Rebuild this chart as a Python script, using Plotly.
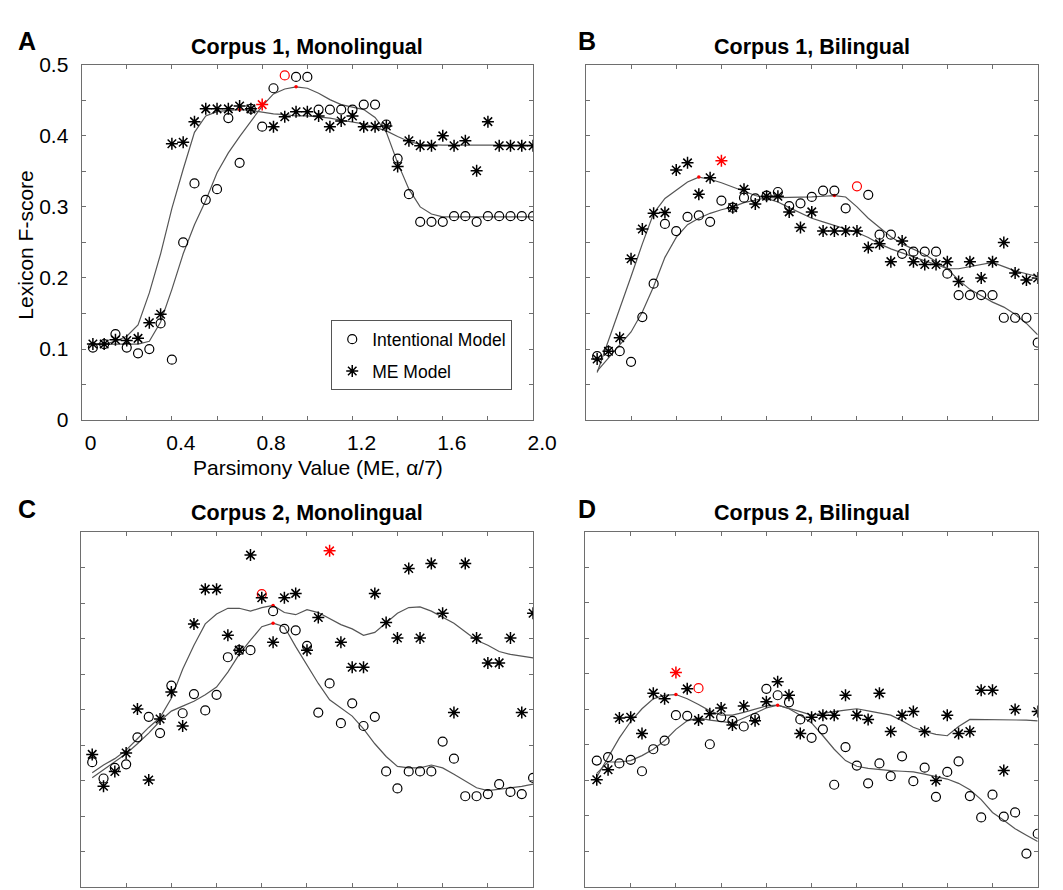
import numpy as np
import plotly.graph_objects as go

# ---------------- data ----------------
x_vals = [round(0.05 * k, 2) for k in range(1, 41)]

# Panel A: Corpus 1, Monolingual
a_int = [0.102, 0.107, 0.121, 0.102, 0.094, 0.100, 0.136, 0.085, 0.250, 0.333,
         0.310, 0.325, 0.425, 0.362, 0.438, 0.413, 0.467, 0.485, 0.483, 0.483,
         0.437, 0.437, 0.437, 0.437, 0.444, 0.444, 0.416, 0.368, 0.318, 0.279,
         0.279, 0.279, 0.287, 0.287, 0.279, 0.287, 0.287, 0.287, 0.287, 0.287]
a_me = [0.107, 0.107, 0.113, 0.112, 0.115, 0.137, 0.149, 0.389, 0.391, 0.420,
        0.438, 0.438, 0.438, 0.442, 0.438, 0.444, 0.413, 0.427, 0.434, 0.434,
        0.428, 0.413, 0.421, 0.428, 0.413, 0.413, 0.414, 0.357, 0.393, 0.386,
        0.386, 0.400, 0.386, 0.393, 0.351, 0.420, 0.386, 0.386, 0.386, 0.386]
a_int_fit = [0.106, 0.107, 0.107, 0.107, 0.107, 0.111, 0.138, 0.184, 0.234, 0.275,
             0.309, 0.348, 0.376, 0.399, 0.421, 0.442, 0.459, 0.466, 0.469, 0.467,
             0.460, 0.451, 0.444, 0.441, 0.437, 0.426, 0.405, 0.362, 0.325, 0.300,
             0.290, 0.286, 0.286, 0.286, 0.286, 0.286, 0.286, 0.286, 0.286, 0.286]
a_me_fit = [0.106, 0.107, 0.111, 0.118, 0.134, 0.179, 0.234, 0.298, 0.353, 0.405,
            0.428, 0.434, 0.436, 0.437, 0.436, 0.433, 0.431, 0.430, 0.428, 0.428,
            0.427, 0.425, 0.422, 0.420, 0.417, 0.412, 0.407, 0.399, 0.392, 0.388,
            0.387, 0.387, 0.387, 0.387, 0.387, 0.387, 0.387, 0.387, 0.387, 0.387]

# Panel B: Corpus 1, Bilingual
b_int = [0.090, 0.097, 0.097, 0.082, 0.145, 0.192, 0.276, 0.266, 0.286, 0.288,
         0.279, 0.309, 0.299, 0.313, 0.312, 0.316, 0.321, 0.301, 0.305, 0.314,
         0.323, 0.323, 0.298, 0.329, 0.317, 0.261, 0.261, 0.234, 0.237, 0.237,
         0.237, 0.206, 0.176, 0.176, 0.176, 0.176, 0.144, 0.144, 0.144, 0.109]
b_me = [0.086, 0.097, 0.116, 0.227, 0.269, 0.291, 0.292, 0.352, 0.362, 0.318,
        0.341, 0.365, 0.299, 0.325, 0.304, 0.315, 0.315, 0.293, 0.271, 0.293,
        0.266, 0.266, 0.266, 0.266, 0.243, 0.248, 0.223, 0.252, 0.223, 0.219,
        0.219, 0.223, 0.195, 0.223, 0.200, 0.223, 0.250, 0.207, 0.197, 0.200]
b_int_fit = [0.069, 0.088, 0.106, 0.124, 0.152, 0.188, 0.229, 0.257, 0.275, 0.284,
             0.291, 0.296, 0.300, 0.306, 0.309, 0.313, 0.313, 0.313, 0.313, 0.314,
             0.315, 0.316, 0.314, 0.300, 0.284, 0.271, 0.258, 0.248, 0.241, 0.233,
             0.223, 0.213, 0.197, 0.184, 0.175, 0.166, 0.159, 0.149, 0.136, 0.120]
b_me_fit = [0.067, 0.111, 0.156, 0.202, 0.248, 0.291, 0.312, 0.323, 0.335, 0.342,
            0.339, 0.334, 0.328, 0.322, 0.316, 0.312, 0.307, 0.299, 0.291, 0.284,
            0.279, 0.274, 0.268, 0.264, 0.257, 0.248, 0.241, 0.235, 0.229, 0.224,
            0.219, 0.213, 0.213, 0.216, 0.219, 0.222, 0.216, 0.210, 0.206, 0.202]

# Panel C: Corpus 2, Monolingual
c_int = [0.176, 0.153, 0.168, 0.173, 0.211, 0.240, 0.217, 0.284, 0.245, 0.272,
         0.249, 0.271, 0.324, 0.334, 0.334, 0.413, 0.389, 0.364, 0.362, 0.340,
         0.246, 0.287, 0.231, 0.259, 0.227, 0.240, 0.163, 0.139, 0.163, 0.163,
         0.163, 0.205, 0.181, 0.128, 0.128, 0.131, 0.145, 0.134, 0.131, 0.154]
c_me = [0.187, 0.142, 0.163, 0.189, 0.251, 0.151, 0.237, 0.275, 0.227, 0.371,
        0.420, 0.420, 0.355, 0.334, 0.468, 0.408, 0.345, 0.408, 0.414, 0.334,
        0.380, 0.474, 0.345, 0.310, 0.310, 0.414, 0.373, 0.351, 0.449, 0.351,
        0.456, 0.386, 0.246, 0.456, 0.351, 0.316, 0.316, 0.351, 0.246, 0.386]
c_int_fit = [0.154, 0.165, 0.176, 0.188, 0.202, 0.217, 0.234, 0.248, 0.255, 0.262,
             0.271, 0.282, 0.303, 0.328, 0.348, 0.367, 0.372, 0.367, 0.339, 0.312,
             0.287, 0.264, 0.252, 0.241, 0.223, 0.202, 0.184, 0.170, 0.168, 0.168,
             0.172, 0.168, 0.159, 0.150, 0.140, 0.136, 0.138, 0.139, 0.142, 0.145]
c_me_fit = [0.161, 0.172, 0.181, 0.193, 0.209, 0.225, 0.239, 0.266, 0.307, 0.341,
            0.371, 0.385, 0.393, 0.393, 0.389, 0.394, 0.397, 0.387, 0.384, 0.391,
            0.387, 0.378, 0.370, 0.364, 0.355, 0.359, 0.373, 0.386, 0.394, 0.395,
            0.389, 0.380, 0.372, 0.360, 0.348, 0.341, 0.332, 0.328, 0.325, 0.323]

# Panel D: Corpus 2, Bilingual
d_int = [0.178, 0.183, 0.174, 0.179, 0.163, 0.194, 0.206, 0.242, 0.241, 0.280,
         0.201, 0.239, 0.234, 0.226, 0.238, 0.279, 0.270, 0.260, 0.236, 0.210,
         0.222, 0.144, 0.197, 0.171, 0.146, 0.174, 0.156, 0.184, 0.149, 0.168,
         0.127, 0.162, 0.177, 0.128, 0.098, 0.130, 0.099, 0.105, 0.047, 0.075]
d_me = [0.151, 0.165, 0.238, 0.239, 0.216, 0.273, 0.265, 0.302, 0.279, 0.235,
        0.244, 0.252, 0.228, 0.255, 0.234, 0.261, 0.289, 0.270, 0.216, 0.239,
        0.242, 0.242, 0.270, 0.242, 0.236, 0.273, 0.219, 0.242, 0.247, 0.219,
        0.150, 0.242, 0.216, 0.219, 0.277, 0.277, 0.164, 0.250, None, 0.247]
d_int_fit = [0.160, 0.176, 0.176, 0.178, 0.185, 0.194, 0.206, 0.222, 0.234, 0.238,
             0.235, 0.233, 0.231, 0.238, 0.245, 0.252, 0.256, 0.251, 0.242, 0.231,
             0.213, 0.194, 0.178, 0.170, 0.167, 0.165, 0.164, 0.163, 0.162, 0.159,
             0.155, 0.152, 0.146, 0.137, 0.123, 0.105, 0.094, 0.082, 0.073, 0.064]
d_me_fit = [0.155, 0.183, 0.210, 0.233, 0.251, 0.265, 0.270, 0.271, 0.265, 0.257,
            0.248, 0.242, 0.242, 0.246, 0.251, 0.255, 0.256, 0.252, 0.247, 0.242,
            0.245, 0.247, 0.249, 0.251, 0.248, 0.245, 0.242, 0.234, 0.225, 0.219,
            0.215, 0.213, 0.226, 0.236, 0.236, 0.236, 0.235, 0.235, 0.235, 0.234]

panel_titles = ["Corpus 1, Monolingual", "Corpus 1, Bilingual",
                "Corpus 2, Monolingual", "Corpus 2, Bilingual"]
panel_letters = ["A", "B", "C", "D"]
x_tick_vals = [round(0.2 * k, 1) for k in range(11)]
x_tick_text = ["0", "", "0.4", "", "0.8", "", "1.2", "", "1.6", "", "2.0"]
y_tick_vals = [round(0.05 * k, 2) for k in range(11)]
y_tick_text = ["0", "", "0.1", "", "0.2", "", "0.3", "", "0.4", "", "0.5"]
series_names = ["Intentional Model", "ME Model"]
x_title = "Parsimony Value (ME, α/7)"
y_title = "Lexicon F-score"

panels = [
    (a_int, a_me, a_int_fit, a_me_fit),
    (b_int, b_me, b_int_fit, b_me_fit),
    (c_int, c_me, c_int_fit, c_me_fit),
    (d_int, d_me, d_int_fit, d_me_fit),
]

# ---------------- layout geometry (pixels) ----------------
W, H = 1063, 890
px_x = [(75.3, 537.2), (591.2, 1053.5), (74.6, 537.2), (590.8, 1053.5)]
px_y = [(46.0, 410.7), (46.0, 410.7), (526.0, 890.0), (525.5, 890.0)]

FONT = "Arial, 'Liberation Sans', Helvetica, sans-serif"
AX_COLOR = "#6e6e6e"
LINE_COLOR = "#555555"

fig = go.Figure()

for p, (s_int, s_me, f_int, f_me) in enumerate(panels):
    xa = "x" if p == 0 else f"x{p+1}"
    ya = "y" if p == 0 else f"y{p+1}"
    # smoothed curves
    for fit in (f_int, f_me):
        fig.add_trace(go.Scatter(x=x_vals, y=fit, mode="lines", xaxis=xa, yaxis=ya,
                                 line=dict(color=LINE_COLOR, width=1.2),
                                 showlegend=False, hoverinfo="skip"))
    # peaks of smoothed curves (red dots)
    for fit in (f_int, f_me):
        k = int(np.argmax(fit))
        fig.add_trace(go.Scatter(x=[x_vals[k]], y=[fit[k]], mode="markers",
                                 xaxis=xa, yaxis=ya,
                                 marker=dict(color="red", size=3.5, symbol="circle"),
                                 showlegend=False, hoverinfo="skip"))
    # raw points
    for s, sym, size, lw, name in ((s_int, "circle-open", 9, 1.2, series_names[0]),
                                   (s_me, "asterisk-open", 10, 1.5, series_names[1])):
        arr = np.array([np.nan if v is None else v for v in s], dtype=float)
        k = int(np.nanargmax(arr))
        cols = ["black"] * len(s)
        cols[k] = "red"
        fig.add_trace(go.Scatter(x=x_vals, y=s, mode="markers", xaxis=xa, yaxis=ya,
                                 name=name, legendgroup=name,
                                 marker=dict(symbol=sym, size=size, color=cols,
                                             line=dict(width=lw, color=cols)),
                                 showlegend=(p == 0)))

layout = dict(
    width=W, height=H,
    margin=dict(l=0, r=0, t=0, b=0),
    paper_bgcolor="white", plot_bgcolor="white",
    font=dict(family=FONT, color="black", size=21),
    showlegend=True,
    legend=dict(x=330.7 / W, y=1 - 308.3 / H, xanchor="left", yanchor="top",
                bgcolor="white", bordercolor="#555555", borderwidth=1,
                font=dict(size=17.5, family=FONT), tracegroupgap=6,
                traceorder="grouped", itemwidth=30),
)

annotations = []
for p in range(4):
    sfx = "" if p == 0 else str(p + 1)
    x0, x1 = px_x[p]
    y0, y1 = px_y[p]
    common = dict(showgrid=False, zeroline=False, showline=True, linecolor=AX_COLOR,
                  linewidth=1, ticks="inside", ticklen=4, tickwidth=1,
                  tickcolor=AX_COLOR, mirror="ticks")
    layout["xaxis" + sfx] = dict(
        domain=[x0 / W, x1 / W], range=[0, 2.0], anchor="y" + sfx,
        tickvals=x_tick_vals, ticktext=x_tick_text,
        showticklabels=(p == 0), tickfont=dict(size=21),
        ticklabelshift=9, ticklabelstandoff=4,
        **common)
    layout["yaxis" + sfx] = dict(
        domain=[1 - y1 / H, 1 - y0 / H], range=[0, 0.5], anchor="x" + sfx,
        tickvals=y_tick_vals, ticktext=y_tick_text,
        showticklabels=(p == 0), tickfont=dict(size=21), ticklabelstandoff=8,
        **common)
    # panel title
    annotations.append(dict(text="<b>" + panel_titles[p] + "</b>", xref="paper", yref="paper",
                            x=(x0 + x1) / 2 / W, y=1 - (28 if p < 2 else 506) / H,
                            xanchor="center", yanchor="middle", showarrow=False,
                            font=dict(size=21.5, family=FONT)))
    # panel letter
    lx = 19.6 if p in (0, 2) else 592
    ly = 22 if p < 2 else 501.5
    annotations.append(dict(text="<b>" + panel_letters[p] + "</b>", xref="paper", yref="paper",
                            x=lx / W, y=1 - ly / H, xanchor="center", yanchor="middle",
                            showarrow=False, font=dict(size=25, family=FONT)))

annotations.append(dict(text=y_title, xref="paper", yref="paper", x=17 / W, y=1 - 231 / H,
                        xanchor="center", yanchor="middle", textangle=-90, showarrow=False,
                        font=dict(size=21, family=FONT)))
annotations.append(dict(text=x_title, xref="paper", yref="paper", x=317 / W, y=1 - 459 / H,
                        xanchor="center", yanchor="middle", showarrow=False,
                        font=dict(size=21, family=FONT)))
layout["annotations"] = annotations

fig.update_layout(**layout)
fig.write_html("out.html")
